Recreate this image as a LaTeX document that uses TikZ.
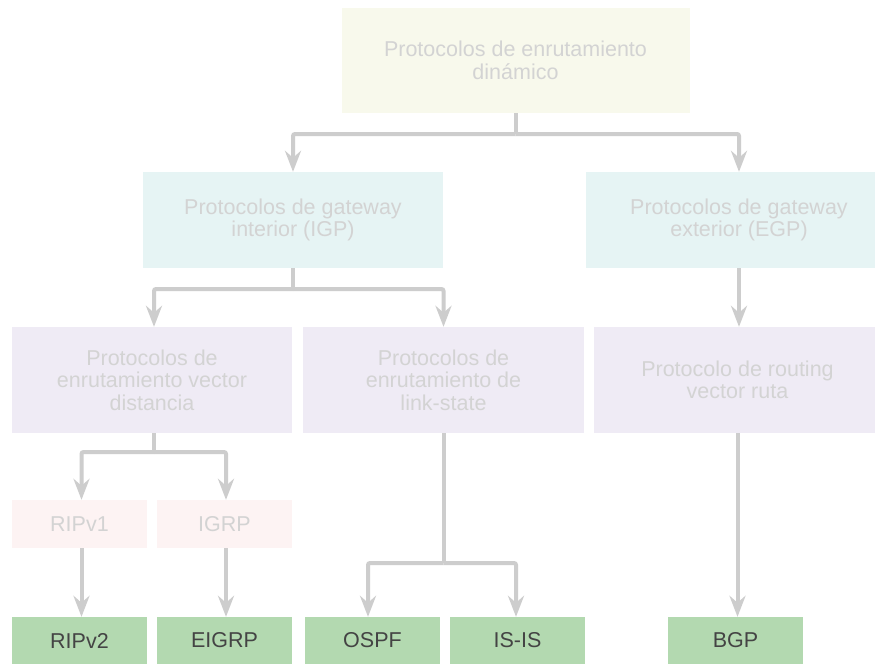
\documentclass[tikz,border=0pt]{standalone}
\usepackage{fontspec}
\setmainfont{Liberation Sans}
\usetikzlibrary{arrows.meta}
\definecolor{topfill}{HTML}{F8F9EC}
\definecolor{igpfill}{HTML}{E6F4F4}
\definecolor{purpfill}{HTML}{EFEBF5}
\definecolor{pinkfill}{HTML}{FDF3F3}
\definecolor{greenfill}{HTML}{B3D9B0}
\definecolor{fadetext}{HTML}{D3D3D3}
\definecolor{darktext}{HTML}{444444}
\definecolor{linecol}{HTML}{CDCDCD}
\tikzset{
  box/.style={rectangle, draw=none, inner sep=0pt, align=center,
    font=\fontsize{21.5}{22.5}\selectfont, text=fadetext},
  greenbox/.style={box, fill=greenfill, text=darktext, minimum width=135pt, minimum height=47pt},
  conn/.style={draw=linecol, line width=4pt, rounded corners=2pt},
  arr/.style={conn, -{Stealth[length=21pt,width=16pt,inset=7pt]}},
}
\begin{document}
\begin{tikzpicture}[x=1pt,y=-1pt]
\useasboundingbox[fill=white] (0,0) rectangle (875,664);
\node[box, fill=topfill, minimum width=348pt, minimum height=105pt] (top) at (515.5,60.5) {Protocolos de enrutamiento\\dinámico};
\node[box, fill=igpfill, minimum width=300pt, minimum height=96pt] (igp) at (293,220) {Protocolos de gateway\\interior (IGP)};
\node[box, fill=igpfill, minimum width=306pt, minimum height=96pt] (egp) at (739,220) {Protocolos de gateway\\exterior (EGP)};
\node[box, fill=purpfill, minimum width=280pt, minimum height=106pt] (vd) at (152,380) {Protocolos de\\enrutamiento vector\\distancia};
\node[box, fill=purpfill, minimum width=281pt, minimum height=106pt] (ls) at (443.5,380) {Protocolos de\\enrutamiento de\\link-state};
\node[box, fill=purpfill, minimum width=287pt, minimum height=106pt] (pv) at (737.5,380) {Protocolo de routing\\vector ruta};
\node[box, fill=pinkfill, minimum width=135pt, minimum height=48pt] (rip1) at (79.5,524) {RIPv1};
\node[box, fill=pinkfill, minimum width=135pt, minimum height=48pt] (igrp) at (224.5,524) {IGRP};
\node[greenbox] (rip2) at (79.5,640.5) {RIPv2};
\node[greenbox] (eigrp) at (224.5,640.5) {EIGRP};
\node[greenbox] (ospf) at (372.5,640.5) {OSPF};
\node[greenbox] (isis) at (517.5,640.5) {IS-IS};
\node[greenbox] (bgp) at (735.5,640.5) {BGP};
% top -> IGP / EGP
\draw[conn] (top.south) -- (top.south |- 0,134) coordinate (j1);
\draw[arr] (j1) -| (igp.north);
\draw[arr] (j1) -| (egp.north);
% IGP -> VD / LS
\draw[conn] (igp.south) -- (igp.south |- 0,289) coordinate (j2);
\draw[arr] (j2) -| ([xshift=2pt]vd.north);
\draw[arr] (j2) -| (ls.north);
% EGP -> PV
\draw[arr] (egp.south) -- (egp.south |- pv.north);
% VD -> RIPv1 / IGRP
\draw[conn] ([xshift=2pt]vd.south) -- ([xshift=2pt]vd.south |- 0,452) coordinate (j3);
\draw[arr] (j3) -| ([xshift=2pt]rip1.north);
\draw[arr] (j3) -| ([xshift=1.5pt]igrp.north);
\draw[arr] ([xshift=2pt]rip1.south) -- ([xshift=2pt]rip2.north);
\draw[arr] ([xshift=1.5pt]igrp.south) -- ([xshift=1.5pt]eigrp.north);
% LS -> OSPF / IS-IS
\draw[conn] (ls.south) -- (ls.south |- 0,563) coordinate (j4);
\draw[arr] (j4) -| ([xshift=-4.5pt]ospf.north);
\draw[arr] (j4) -| ([xshift=-1.5pt]isis.north);
% PV -> BGP
\draw[arr] (pv.south) -- (pv.south |- bgp.north);
\end{tikzpicture}
\end{document}
